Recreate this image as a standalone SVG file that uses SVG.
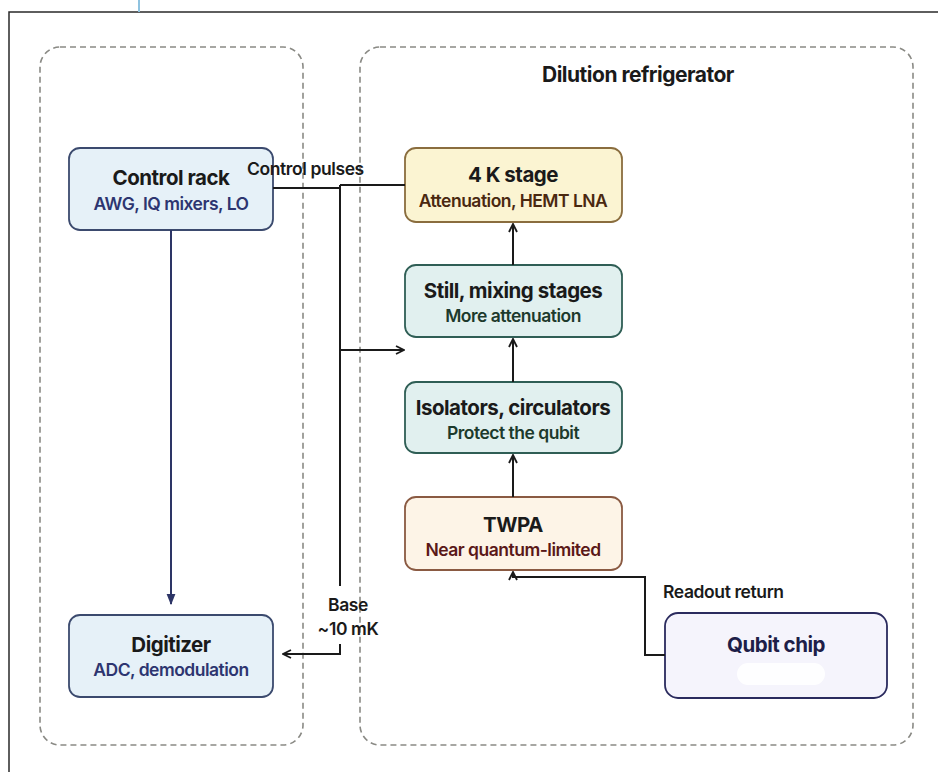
<svg xmlns="http://www.w3.org/2000/svg" width="938" height="772" viewBox="0 0 938 772">
<defs>
<style>
.grp{fill:none;stroke:#8a8a85;stroke-width:1.6;stroke-dasharray:6 4}
.t{font-family:Inter,"Liberation Sans",sans-serif;font-weight:700;font-size:20.5px;fill:#1a1a1a;text-anchor:middle;letter-spacing:-0.5px}
.s{font-family:Inter,"Liberation Sans",sans-serif;font-weight:600;font-size:17.5px;text-anchor:middle;letter-spacing:-0.5px}
.lbl{font-family:Inter,"Liberation Sans",sans-serif;font-weight:600;font-size:17.5px;fill:#1a1a1a;letter-spacing:-0.4px}
.c{fill:none;stroke:#1a1a1a;stroke-width:2}
</style>
<marker id="ah" viewBox="0 0 10 10" refX="9" refY="5" markerWidth="10" markerHeight="10" markerUnits="userSpaceOnUse" orient="auto">
<path d="M1,1 L9,5 L1,9" fill="none" stroke="#1a1a1a" stroke-width="1.8"/>
</marker>
<marker id="ahn" viewBox="0 0 10 10" refX="9" refY="5" markerWidth="11" markerHeight="11" markerUnits="userSpaceOnUse" orient="auto">
<path d="M0,1 L10,5 L0,9 Z" fill="#2d3566"/>
</marker>
</defs>
<rect width="938" height="772" fill="#ffffff"/>
<path d="M9,772 L9,12 L938,12" fill="none" stroke="#2a2a2a" stroke-width="1.5"/>
<line x1="139" y1="0" x2="139" y2="12" stroke="#8fc3e0" stroke-width="2"/>

<g id="group-control">
<rect class="grp" x="40" y="47" width="263" height="698" rx="20"/>
</g>
<g id="group-fridge">
<rect class="grp" x="360" y="47" width="553" height="698" rx="20"/>
<text class="t" x="542" y="82" style="text-anchor:start;font-size:21px">Dilution refrigerator</text>
</g>

<g id="control-rack">
<rect x="69" y="148" width="204" height="82" rx="11" fill="#e6f1f8" stroke="#3b4a6e" stroke-width="1.8"/>
<text class="t" x="171" y="185">Control rack</text>
<text class="s" x="171" y="210" fill="#2d3570">AWG, IQ mixers, LO</text>
</g>

<g id="digitizer">
<rect x="69" y="615" width="204" height="82" rx="11" fill="#e6f1f8" stroke="#3b4a6e" stroke-width="1.8"/>
<text class="t" x="171" y="652">Digitizer</text>
<text class="s" x="171" y="676" fill="#2d3570">ADC, demodulation</text>
</g>

<g id="stage-4k">
<rect x="405" y="148" width="217" height="74" rx="11" fill="#fbf4d2" stroke="#8a6d3e" stroke-width="1.8"/>
<text class="t" x="513" y="182">4 K stage</text>
<text class="s" x="513" y="207" fill="#4a2810">Attenuation, HEMT LNA</text>
</g>

<g id="still-mixing">
<rect x="405" y="265" width="217" height="72" rx="11" fill="#e1f0ef" stroke="#2f5e55" stroke-width="1.8"/>
<text class="t" x="513" y="298">Still, mixing stages</text>
<text class="s" x="513" y="322" fill="#1d3a2c">More attenuation</text>
</g>

<g id="isolators">
<rect x="405" y="382" width="217" height="71" rx="11" fill="#e1f0ef" stroke="#2f5e55" stroke-width="1.8"/>
<text class="t" x="513" y="415">Isolators, circulators</text>
<text class="s" x="513" y="439" fill="#1d3a2c">Protect the qubit</text>
</g>

<g id="twpa">
<rect x="405" y="497" width="217" height="73" rx="11" fill="#fdf4e7" stroke="#8a5a42" stroke-width="1.8"/>
<text class="t" x="513" y="532">TWPA</text>
<text class="s" x="513" y="556" fill="#5a1818">Near quantum-limited</text>
</g>

<g id="qubit-chip">
<rect x="665" y="613" width="222" height="85" rx="13" fill="#f5f4fc" stroke="#2b2b5e" stroke-width="1.8"/>
<text class="t" x="776" y="652" style="fill:#1e1e48">Qubit chip</text>
<rect x="737" y="663" width="88" height="22" rx="11" fill="#ffffff" opacity="0.9"/>
</g>

<g id="connectors">
<line x1="171" y1="230" x2="171" y2="604" stroke="#2d3566" stroke-width="2" marker-end="url(#ahn)"/>
<polyline class="c" points="273,188 340,188"/>
<polyline class="c" points="340,185 405,185"/>
<line class="c" x1="340" y1="185" x2="340" y2="586"/>
<line class="c" x1="340" y1="350" x2="404" y2="350" marker-end="url(#ah)"/>
<polyline class="c" points="340,644 340,654 283,654" marker-end="url(#ah)"/>
<line class="c" x1="513" y1="265" x2="513" y2="224" marker-end="url(#ah)"/>
<line class="c" x1="513" y1="382" x2="513" y2="339" marker-end="url(#ah)"/>
<line class="c" x1="513" y1="497" x2="513" y2="455" marker-end="url(#ah)"/>
<polyline class="c" points="665,655 645,655 645,577 513,577 513,572" marker-end="url(#ah)"/>
<text class="lbl" x="247" y="175">Control pulses</text>
<text class="lbl" x="348" y="611" text-anchor="middle">Base</text>
<text class="lbl" x="348" y="635" text-anchor="middle">~10 mK</text>
<text class="lbl" x="663" y="598">Readout return</text>
</g>
</svg>
